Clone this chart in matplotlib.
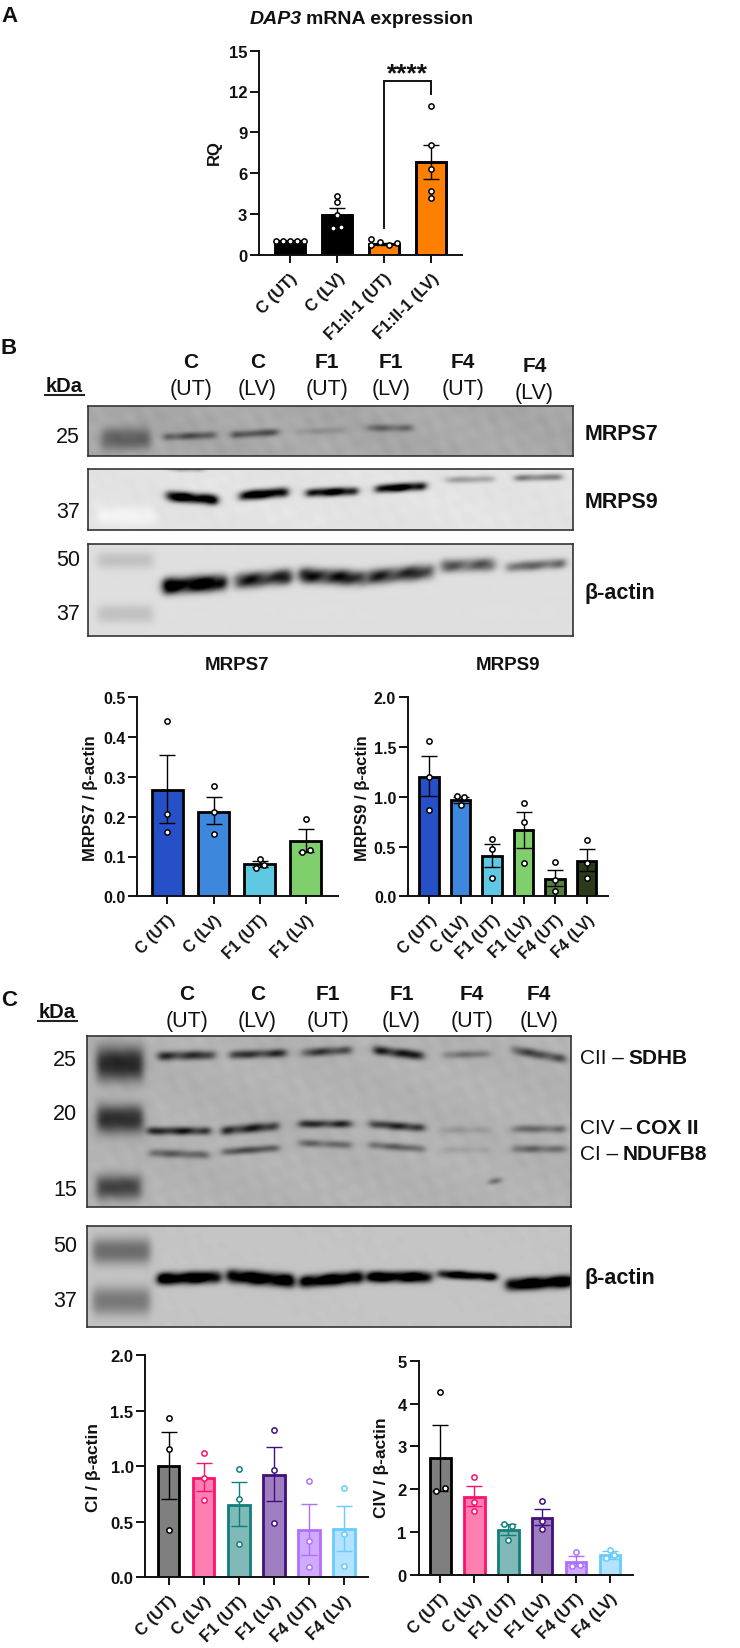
import numpy as np
import matplotlib
matplotlib.use("Agg")
from matplotlib import pyplot as plt
from matplotlib.lines import Line2D

plt.rcParams["font.family"] = ["Liberation Sans", "DejaVu Sans"]

W, H = 740, 1649

# Panel A
a_labels = ["C (UT)", "C (LV)", "F1:II-1 (UT)", "F1:II-1 (LV)"]
a_means = [1.0, 2.95, 0.8, 6.8]
a_up = [1.0, 3.47, 0.88, 8.1]
a_low = [1.0, 2.45, 0.72, 5.6]
a_pts = [[1, 1, 1, 1, 1], [4.29, 3.85, 2.94, 2.0, 2.05], [1.15, 0.74, 0.9, 0.74, 0.88], [10.95, 8.1, 6.3, 4.65, 4.2]]
a_off = [[-0.29, -0.145, 0, 0.145, 0.29], [0, 0, 0, -0.09, 0.09], [-0.28, -0.28, -0.09, 0.1, 0.28], [0, 0, 0, 0, 0]]
a_fill = ["#000000", "#000000", "#ff8000", "#ff8000"]
a_edge = ["#000000"] * 4
bracket_x = [2, 2, 3, 3]
bracket_y = [1.96, 12.77, 12.77, 11.8]

# Panel B, charts
b7_labels = ["C (UT)", "C (LV)", "F1 (UT)", "F1 (LV)"]
b7_means = [0.267, 0.213, 0.08, 0.139]
b7_up = [0.356, 0.25, 0.088, 0.168]
b7_low = [0.183, 0.181, 0.073, 0.112]
b7_pts = [[0.44, 0.207, 0.162], [0.276, 0.211, 0.157], [0.093, 0.079, 0.07], [0.193, 0.117, 0.112]]
b7_off = [[0, 0, 0], [0, 0, 0], [0, 0.09, -0.09], [0, 0.09, -0.09]]
b7_fill = ["#2650c8", "#3d87dc", "#5fc8e2", "#7fcf6d"]

b9_labels = ["C (UT)", "C (LV)", "F1 (UT)", "F1 (LV)", "F4 (UT)", "F4 (LV)"]
b9_means = [1.2, 0.97, 0.405, 0.663, 0.178, 0.355]
b9_up = [1.41, 1.0, 0.526, 0.85, 0.268, 0.472]
b9_low = [1.01, 0.94, 0.29, 0.49, 0.1, 0.25]
b9_pts = [[1.56, 1.2, 0.864], [1.01, 1.0, 0.92], [0.576, 0.472, 0.184], [0.938, 0.744, 0.332], [0.342, 0.16, 0.05], [0.566, 0.335, 0.184]]
b9_off = [[0, 0, 0], [-0.125, 0.125, 0], [0, 0, 0], [0, 0, 0], [0, 0, 0], [0, 0, 0]]
b9_fill = ["#2650c8", "#3d87dc", "#5fc8e2", "#7fcf6d", "#55803f", "#2b3a1a"]

# Panel C, charts
c_labels = ["C (UT)", "C (LV)", "F1 (UT)", "F1 (LV)", "F4 (UT)", "F4 (LV)"]
c_fill = ["#7f7f7f", "#ff7fb0", "#80b9b7", "#9f7fbf", "#d0aaff", "#b3e3ff"]
c_edge = ["#000000", "#ff0f6e", "#0f7f7a", "#40107f", "#b070ff", "#66ccff"]

ci_means = [1.0, 0.897, 0.654, 0.924, 0.423, 0.432]
ci_up = [1.307, 1.025, 0.855, 1.17, 0.657, 0.639]
ci_low = [0.7, 0.777, 0.465, 0.687, 0.198, 0.234]
ci_pts = [[1.436, 1.157, 0.423], [1.12, 0.89, 0.693], [0.97, 0.705, 0.3], [1.325, 0.966, 0.492], [0.864, 0.324, 0.093], [0.804, 0.393, 0.105]]
ci_off = [[0, 0, 0]] * 6

civ_means = [2.74, 1.82, 1.04, 1.34, 0.3, 0.466]
civ_up = [3.51, 2.08, 1.19, 1.55, 0.435, 0.57]
civ_low = [1.97, 1.6, 0.94, 1.16, 0.2, 0.38]
civ_pts = [[4.26, 2.03, 1.95], [2.29, 1.7, 1.49], [1.19, 1.14, 0.81], [1.72, 1.25, 1.08], [0.544, 0.21, 0.225], [0.583, 0.474, 0.389]]
civ_off = [[0, 0.13, -0.13], [0, 0, 0], [-0.125, 0.125, 0], [0, 0, 0], [0, -0.125, 0.125], [0, 0.125, -0.125]]

# blots: x0, x1, y0, y1, thickness, darkness (figure pixels)
b1_bands = [(102, 150, 440, 440, 11, 0.3), (165, 215, 438, 436, 3, 0.4), (232, 278, 436, 433, 3, 0.42),
            (297, 344, 433, 431, 2.8, 0.12), (367, 412, 429, 429, 3, 0.3)]
b2_bands = [(98, 155, 517, 517, 9, -0.06), (167, 217, 497, 501, 4.6, 1.15), (240, 287, 497, 493, 4.2, 1.15),
            (307, 357, 494, 492, 3.5, 1.1), (376, 425, 490, 487, 3.5, 1.15), (445, 493, 481, 480, 2.6, 0.32),
            (515, 562, 479, 478, 2.6, 0.48), (167, 203, 469, 470, 1.8, 0.5)]
b3_bands = [(98, 153, 562, 562, 8, 0.12), (98, 153, 615, 615, 9, 0.12), (163, 226, 588, 584, 7.5, 1.05),
            (235, 292, 583, 578, 7.2, 0.75), (299, 365, 577, 580, 7.2, 0.78), (367, 433, 579, 573, 7, 0.7),
            (441, 495, 568, 566, 6, 0.52), (507, 565, 569, 565, 4.4, 0.5)]
c1_bands = [(97, 143, 1065, 1065, 17, 0.55), (97, 143, 1120, 1120, 14, 0.52), (97, 141, 1188, 1188, 12, 0.45),
            (158, 215, 1057, 1056, 4, 0.55), (230, 287, 1056, 1054, 3.6, 0.55), (303, 351, 1054, 1051, 3.6, 0.5),
            (374, 424, 1051, 1057, 4, 0.65), (444, 490, 1056, 1055, 3, 0.28), (513, 565, 1051, 1060, 4, 0.45),
            (148, 210, 1132, 1132, 3.4, 0.65), (222, 278, 1132, 1127, 3.9, 0.6), (299, 352, 1125, 1125, 3.2, 0.6),
            (370, 424, 1125, 1129, 3.4, 0.6), (440, 490, 1131, 1131, 3.2, 0.1), (513, 565, 1130, 1130, 3.2, 0.33),
            (150, 208, 1154, 1156, 3.4, 0.36), (223, 278, 1153, 1149, 3, 0.48), (299, 351, 1144, 1146, 3, 0.33),
            (370, 424, 1146, 1150, 3, 0.38), (440, 490, 1151, 1151, 3.2, 0.07), (513, 565, 1150, 1150, 3.2, 0.33),
            (490, 501, 1183, 1181, 2.2, 0.45)]
c2_bands = [(93, 150, 1252, 1252, 13, 0.35), (93, 150, 1302, 1302, 14, 0.3), (158, 220, 1280, 1278, 5.6, 1.05),
            (228, 294, 1277, 1282, 6.2, 1.05), (301, 362, 1283, 1278, 5.6, 1.05), (367, 431, 1278, 1278, 5, 1.05),
            (439, 496, 1275, 1278, 3.5, 1.05), (507, 573, 1286, 1282, 5.6, 1.1)]

lanes_top = ["C", "C", "F1", "F1", "F4", "F4"]
lanes_sub = ["(UT)", "(LV)", "(UT)", "(LV)", "(UT)", "(LV)"]

fig = plt.figure(figsize=(W / 100, H / 100), dpi=100, facecolor="white")


def px_axes(x0, y0, x1, y1):
    return fig.add_axes([x0 / W, 1 - y1 / H, (x1 - x0) / W, (y1 - y0) / H])


def txt(x, y, s, size, bold=False, **kw):
    kw.setdefault("ha", "center")
    kw.setdefault("va", "center")
    return fig.text(x / W, 1 - y / H, s, fontsize=size, fontweight="bold" if bold else "normal", color="#111111", **kw)


def mixed(x, y, plain, strong, size):
    t = txt(x, y, plain, size, ha="left")
    box = t.get_window_extent(fig.canvas.get_renderer())
    txt(box.x1 + 4, y, strong, size, bold=True, ha="left")


def chart(rect, c0, step, means, up, low, pts, off, labels, fills, edges, ymax, ticks, ticklabels, size, bw, lw=2.0):
    ax = px_axes(*rect)
    x = np.arange(len(means))
    ax.bar(x, means, width=bw, color=fills, edgecolor=edges, linewidth=lw, zorder=2)
    for i in x:
        ax.errorbar(i, means[i], yerr=[[means[i] - low[i]], [up[i] - means[i]]], color=edges[i],
                    capsize=5.5, elinewidth=1.0, capthick=1.0, zorder=3, clip_on=False)
        ax.plot(np.full(len(pts[i]), i) + np.array(off[i]), pts[i], "o", ms=3.8, mfc="white",
                mec=edges[i], mew=1.1, zorder=4, clip_on=False)
    ax.set_xlim((rect[0] - c0) / step, (rect[2] - c0) / step)
    ax.set_ylim(0, ymax)
    ax.set_yticks(ticks)
    ax.set_yticklabels(ticklabels, fontsize=size, fontweight="bold")
    ax.set_xticks(x)
    ax.set_xticklabels(labels, fontsize=size, fontweight="bold", rotation=45, ha="right", rotation_mode="anchor")
    ax.tick_params(axis="y", length=6.5, width=1.4, pad=2, color="#111111", labelcolor="#111111")
    ax.tick_params(axis="x", length=6, width=1.4, pad=5, color="#111111", labelcolor="#111111")
    for s in ["top", "right"]:
        ax.spines[s].set_visible(False)
    for s in ["left", "bottom"]:
        ax.spines[s].set_linewidth(1.4)
        ax.spines[s].set_color("#111111")
    ax.patch.set_alpha(0)
    return ax


def soften(img, passes=2):
    # small blur, the scanned blots are soft
    k = np.array([1, 2, 3, 2, 1]) / 9
    for _ in range(passes):
        pad = np.pad(img, 2, mode="edge")
        pad = np.apply_along_axis(lambda r: np.convolve(r, k, mode="same"), 0, pad)
        pad = np.apply_along_axis(lambda r: np.convolve(r, k, mode="same"), 1, pad)
        img = pad[2:-2, 2:-2]
    return img


def blot(rect, bg, bands, grain):
    x0, y0, x1, y1 = rect
    xx, yy = np.meshgrid(np.arange(x0, x1) + 0.5, np.arange(y0, y1) + 0.5)
    # soft mottling of the membrane
    mottle = (np.sin(xx / 5.3 + yy / 7.1) * np.sin(xx / 13 - yy / 5)
              + np.sin(xx / 3.1 - yy / 4.3) * np.sin(xx / 19 + yy / 11) + np.sin(xx / 29 - yy / 13))
    img = np.full(xx.shape, float(bg)) + grain * mottle
    for bx0, bx1, by0, by1, th, amp in bands:
        t = (xx - bx0) / (bx1 - bx0)
        yc = by0 + (by1 - by0) * t
        edge = 0.5 * (np.tanh((xx - bx0) / 4) - np.tanh((xx - bx1) / 4))
        # ladder blobs stay smooth, only real bands get the uneven look
        wob = 1 + (0.14 * np.sin(xx / 5.1 + bx0) + 0.08 * np.sin(yy / 2.3 + xx / 3.3)) * (th < 8)
        img -= amp * wob * edge * np.exp(-(np.abs(yy - yc) / th) ** 2.4)
    ax = px_axes(*rect)
    ax.imshow(np.clip(soften(img), 0, 1), cmap="gray", vmin=0, vmax=1, aspect="auto", interpolation="bicubic")
    ax.set_xticks([])
    ax.set_yticks([])
    for s in ax.spines.values():
        s.set_linewidth(1.2)
        s.set_color("#333333")


def underline(x0, x1, y):
    fig.add_artist(Line2D([x0 / W, x1 / W], [1 - y / H, 1 - y / H], color="#222222", lw=1.5))


# A
txt(1, 16, "A", 16, bold=True, ha="left")
txt(301.5, 20, "DAP3", 14, bold=True, ha="right", style="italic")
txt(306.5, 20, "mRNA expression", 14, bold=True, ha="left")
ax_a = chart((259, 51.7, 462, 255.7), 290, 47, a_means, a_up, a_low, a_pts, a_off, a_labels, a_fill, a_edge,
             15, [0, 3, 6, 9, 12, 15], ["0", "3", "6", "9", "12", "15"], 12, 0.62, lw=2.1)
ax_a.plot(bracket_x, bracket_y, color="#111111", lw=1.4, zorder=5, solid_joinstyle="miter", clip_on=False)
txt(407, 74, "****", 19, bold=True)
txt(214, 153, "RQ", 12, bold=True, rotation=90)

# B
txt(1, 349, "B", 16, bold=True, ha="left")
txt(64, 387, "kDa", 14.5, bold=True)
underline(45, 84, 396)
for x, y, top, sub in zip([191, 257.6, 327, 391, 463, 534.5], [363, 363, 363, 363, 363, 367], lanes_top, lanes_sub):
    txt(x, y, top, 15, bold=True)
    txt(x, y + 27, sub, 15.5)
blot((88, 407, 573, 457), 0.66, b1_bands, 0.012)
blot((88, 470, 573, 531), 0.89, b2_bands, 0.006)
blot((88, 545, 573, 637), 0.875, b3_bands, 0.001)
for y, s in zip([438, 513, 561, 614], ["25", "37", "50", "37"]):
    txt(68, y, s, 15.5)
for y, s in zip([435, 503, 593], ["MRPS7", "MRPS9", "β-actin"]):
    txt(585, y, s, 15.5, bold=True, ha="left")

txt(237, 666, "MRPS7", 13.5, bold=True)
txt(508, 666, "MRPS9", 13.5, bold=True)
chart((137.3, 698.3, 337.7, 897.3), 167.3, 46.2, b7_means, b7_up, b7_low, b7_pts, b7_off, b7_labels, b7_fill,
      ["#000000"] * 4, 0.5, [0, 0.1, 0.2, 0.3, 0.4, 0.5], ["0.0", "0.1", "0.2", "0.3", "0.4", "0.5"], 11.5, 0.67)
chart((408, 698.3, 608, 897.3), 429, 31.5, b9_means, b9_up, b9_low, b9_pts, b9_off, b9_labels, b9_fill,
      ["#000000"] * 6, 2.0, [0, 0.5, 1.0, 1.5, 2.0], ["0.0", "0.5", "1.0", "1.5", "2.0"], 11.5, 0.63)
txt(91, 798, "MRPS7 / β-actin", 12, bold=True, rotation=90)
txt(362, 798, "MRPS9 / β-actin", 12, bold=True, rotation=90)

# C
txt(1, 1001, "C", 16, bold=True, ha="left")
txt(57, 1013, "kDa", 14.5, bold=True)
underline(38, 76.5, 1022)
for x, top, sub in zip([187, 257.6, 328, 401.5, 472, 539], lanes_top, lanes_sub):
    txt(x, 995, top, 15, bold=True)
    txt(x, 1022, sub, 15.5)
blot((87, 1037, 571, 1208), 0.70, c1_bands, 0.01)
blot((87, 1227, 571, 1328), 0.77, c2_bands, 0.001)
for y, s in zip([1061, 1115, 1191, 1247, 1302], ["25", "20", "15", "50", "37"]):
    txt(65, y, s, 15.5)
mixed(580, 1058, "CII –", "SDHB", 15)
mixed(580, 1129, "CIV –", "COX II", 15)
mixed(580, 1155, "CI –", "NDUFB8", 15)
txt(585, 1279, "β-actin", 15.5, bold=True, ha="left")

chart((145.4, 1356, 367.7, 1578.3), 168.5, 35.1, ci_means, ci_up, ci_low, ci_pts, ci_off, c_labels, c_fill, c_edge,
      2.0, [0, 0.5, 1.0, 1.5, 2.0], ["0.0", "0.5", "1.0", "1.5", "2.0"], 12, 0.62)
chart((418.5, 1361.7, 633, 1576), 440.4, 33.9, civ_means, civ_up, civ_low, civ_pts, civ_off, c_labels, c_fill, c_edge,
      5, [0, 1, 2, 3, 4, 5], ["0", "1", "2", "3", "4", "5"], 12, 0.61)
txt(93.5, 1468, "CI / β-actin", 12.5, bold=True, rotation=90)
txt(382, 1468, "CIV / β-actin", 12.5, bold=True, rotation=90)

fig.savefig("out.png", dpi=100)
